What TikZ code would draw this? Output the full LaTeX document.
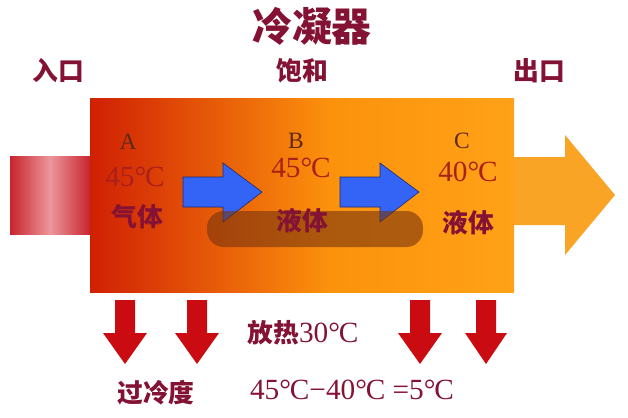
\documentclass[tikz,border=0pt]{standalone}
\usepackage{fontspec}
\setmainfont{Liberation Serif}
\newfontfamily\cjk{Noto Sans CJK SC}
\usetikzlibrary{positioning}
\definecolor{condred}{RGB}{208,32,4}
\definecolor{condorange}{RGB}{252,146,12}
\definecolor{condlight}{RGB}{255,162,24}
\definecolor{pipered}{RGB}{200,36,44}
\definecolor{pipelight}{RGB}{236,150,156}
\definecolor{outorange}{RGB}{250,164,38}
\definecolor{flowblue}{RGB}{52,100,246}
\definecolor{flowedge}{RGB}{30,40,110}
\definecolor{heatred}{RGB}{202,12,18}
\definecolor{labelred}{RGB}{132,18,52}
\definecolor{tempred}{RGB}{170,32,26}
\definecolor{letterbrown}{RGB}{96,40,20}
\definecolor{markbrown}{RGB}{120,52,14}
\newcommand{\dC}{°\kern-0.04em C}

\begin{document}
\begin{tikzpicture}[
  x=0.03cm, y=-0.03cm,
  titletext/.style={font=\cjk\bfseries\fontsize{34}{36}\selectfont, text=labelred},
  portlabel/.style={font=\cjk\bfseries\fontsize{22}{24}\selectfont, text=labelred},
  pointletter/.style={font=\fontsize{20}{22}\selectfont, text=letterbrown},
  pointtemp/.style={font=\fontsize{25}{28}\selectfont, text=tempred},
  phaselabel/.style={font=\cjk\bfseries\fontsize{22}{24}\selectfont, text=labelred},
  sumtext/.style={font=\fontsize{25}{28}\selectfont, text=labelred},
  flowarrow/.style={fill=flowblue, draw=flowedge, line width=0.5pt},
  heatarrow/.style={fill=heatred},
]
\useasboundingbox (0,0) rectangle (628,417);

% === Condenser body and pipes ===
\fill[left color=pipered, right color=pipered, middle color=pipelight] (10,156) rectangle (90,234);
\fill[left color=condred, right color=condorange] (90,98) rectangle (330,292);
\fill[left color=condorange, right color=condlight] (330,98) rectangle (514,292);
\fill[outorange] (514,157) -- (565,157) -- (565,135) -- (615,195) -- (565,255) -- (565,225) -- (514,225) -- cycle;

% flow A -> B -> C
\draw[flowarrow] (183,177) -- (223,177) -- (223,163) -- (262,192) -- (223,222) -- (223,207) -- (183,207) -- cycle;
\draw[flowarrow] (340,177) -- (380,177) -- (380,163) -- (419,192) -- (380,222) -- (380,207) -- (340,207) -- cycle;
\fill[markbrown, opacity=0.6, rounded corners=0.5cm] (207,211) rectangle (423,247);

% === Labels ===
\node[titletext] (title) at (312,26) {冷凝器};
\node[portlabel] (inlet) at (58,71) {入口};
\node[portlabel] (saturated) at (302,71) {饱和};
\node[portlabel] (outlet) at (539,71) {出口};

\node[pointletter] (ptA) at (128,142) {A};
\node[pointtemp] (tempA) at (135,177) {45\dC};
\node[phaselabel] (phaseA) at (137,217) {气体};

\node[pointletter] (ptB) at (296,141) {B};
\node[pointtemp] (tempB) at (301,168) {45\dC};
\node[phaselabel] (phaseB) at (302,221) {液体};

\node[pointletter] (ptC) at (462,141) {C};
\node[pointtemp] (tempC) at (468,172) {40\dC};
\node[phaselabel] (phaseC) at (468,223) {液体};

% === Heat rejection ===
\fill[heatarrow] (115,300) -- (135,300) -- (135,333) -- (147,333) -- (125,364) -- (103,333) -- (115,333) -- cycle;
\fill[heatarrow] (187,300) -- (207,300) -- (207,333) -- (219,333) -- (197,364) -- (175,333) -- (187,333) -- cycle;
\fill[heatarrow] (410,300) -- (430,300) -- (430,333) -- (442,333) -- (420,364) -- (398,333) -- (410,333) -- cycle;
\fill[heatarrow] (476,300) -- (496,300) -- (496,333) -- (507,333) -- (486,364) -- (465,333) -- (476,333) -- cycle;

\node[sumtext] (heat) at (303,333) {{\cjk\bfseries\fontsize{22}{24}\selectfont 放热}30\dC};
\node[phaselabel] (subcool) at (156,393) {过冷度};
\node[sumtext] (diff) at (352,390) {45\dC−40\dC\ =5\dC};
\end{tikzpicture}
\end{document}
